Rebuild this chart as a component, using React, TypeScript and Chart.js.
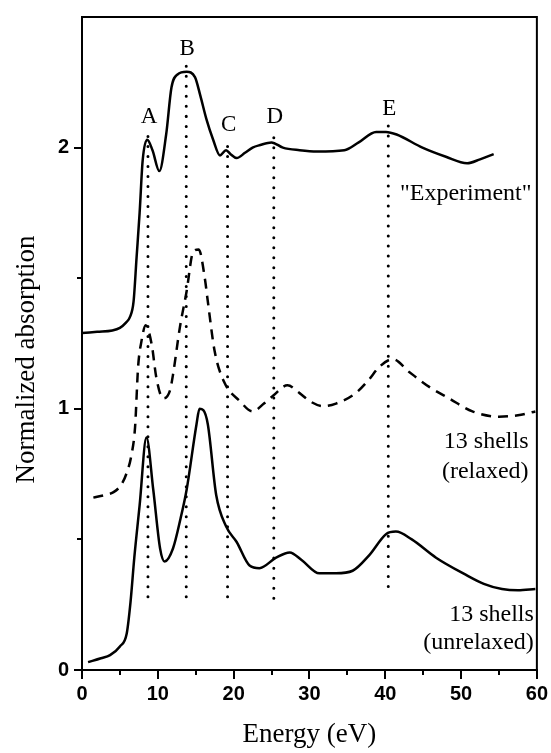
import React, { useEffect, useRef } from 'react';
import { Chart, registerables } from 'chart.js';

Chart.register(...registerables);

// ---- data ----
const experimentEnergy = [0, 2, 4, 5, 5.8, 6.3, 6.8, 7.2, 7.6, 8.0, 8.6, 9.3, 10.2, 11.1, 11.8, 12.6, 13.8, 14.9, 15.6, 16.4, 17.3, 18.2, 19.0, 19.6, 20.4, 21.5, 22.5, 23.5, 25.0, 26.5, 28.7, 31.0, 34.6, 36.5, 38.8, 40.1, 41.5, 44.9, 48.0, 50.8, 52.5, 54.3];
const experimentAbs = [1.29, 1.295, 1.3, 1.31, 1.33, 1.35, 1.41, 1.58, 1.75, 1.95, 2.03, 1.99, 1.91, 2.05, 2.23, 2.28, 2.29, 2.27, 2.2, 2.11, 2.03, 1.97, 1.99, 1.975, 1.96, 1.98, 2.0, 2.01, 2.02, 2.0, 1.99, 1.985, 1.99, 2.02, 2.06, 2.06, 2.05, 2.0, 1.965, 1.94, 1.955, 1.975];

const relaxedEnergy = [1.5, 3, 4.1, 5.2, 5.9, 6.5, 7.0, 7.4, 7.85, 8.4, 9.2, 9.8, 10.7, 11.6, 12.0, 12.9, 13.8, 14.65, 15.4, 16.2, 16.6, 17.5, 18.8, 20.8, 22.5, 24.0, 25.2, 27.1, 28.7, 30.0, 31.8, 33.5, 36.1, 37.8, 39.2, 41.0, 43.2, 46.0, 48.4, 51.5, 55.0, 57.5, 59.8];
const relaxedAbs = [0.66, 0.67, 0.68, 0.71, 0.755, 0.82, 0.93, 1.16, 1.26, 1.32, 1.245, 1.12, 1.04, 1.07, 1.13, 1.31, 1.45, 1.6, 1.61, 1.5, 1.41, 1.22, 1.1, 1.03, 0.99, 1.02, 1.05, 1.09, 1.06, 1.03, 1.01, 1.02, 1.06, 1.11, 1.16, 1.19, 1.14, 1.08, 1.04, 0.99, 0.97, 0.975, 0.99];

const unrelaxedEnergy = [0.8, 2.5, 3.7, 5.0, 5.9, 6.4, 6.9, 7.6, 8.5, 9.4, 10.3, 10.9, 12.0, 13.0, 13.8, 15.1, 15.5, 16.0, 16.6, 17.7, 19.0, 20.4, 22.1, 23.4, 25.6, 27.4, 29.0, 31.3, 33.5, 35.7, 37.9, 40.1, 41.4, 43.5, 46.7, 50.6, 53.0, 55.4, 57.5, 59.8];
const unrelaxedAbs = [0.03, 0.045, 0.057, 0.09, 0.14, 0.26, 0.43, 0.63, 0.89, 0.69, 0.465, 0.415, 0.465, 0.58, 0.69, 0.94, 1.0, 0.995, 0.94, 0.67, 0.55, 0.49, 0.4, 0.39, 0.43, 0.45, 0.42, 0.37, 0.37, 0.38, 0.44, 0.52, 0.53, 0.5, 0.43, 0.365, 0.33, 0.31, 0.305, 0.31];

const peakLabels = ['A', 'B', 'C', 'D', 'E'];
const peakEnergy = [8.7, 13.75, 19.2, 25.3, 40.4];
const peakTop = [2.06, 2.32, 2.03, 2.06, 2.09];
const peakBottom = [0.28, 0.28, 0.28, 0.275, 0.32];

const captionLines = ['"Experiment"', '13 shells', '(relaxed)', '13 shells', '(unrelaxed)'];
const captionEnergy = [59.3, 58.9, 58.9, 59.6, 59.6];
const captionAbs = [1.8, 0.849, 0.736, 0.189, 0.079];

const xTickValues = [0, 10, 20, 30, 40, 50, 60];
const xMinorTicks = [5, 15, 25, 35, 45, 55];
const yTickValues = [0, 1, 2];
const yMinorTicks = [0.5, 1.5];

const xTitle = 'Energy (eV)';
const yTitle = 'Normalized absorption';

const SERIF = '"Liberation Serif", "Times New Roman", serif';
const SANS = '"Liberation Sans", Arial, sans-serif';

const toPoints = (xs: number[], ys: number[]) => xs.map((x, i) => ({ x, y: ys[i] }));

const decorPlugin = {
  id: 'decor',
  afterDraw(chart: any) {
    const { ctx, chartArea } = chart;
    const xs = chart.scales.x;
    const ys = chart.scales.y;
    ctx.save();
    ctx.strokeStyle = '#000';
    ctx.lineWidth = 2;
    ctx.strokeRect(chartArea.left, chartArea.top, chartArea.right - chartArea.left, chartArea.bottom - chartArea.top);
    // minor ticks
    ctx.beginPath();
    xMinorTicks.forEach((v) => {
      const px = Math.round(xs.getPixelForValue(v));
      ctx.moveTo(px, chartArea.bottom);
      ctx.lineTo(px, chartArea.bottom + 5);
    });
    yMinorTicks.forEach((v) => {
      const py = Math.round(ys.getPixelForValue(v));
      ctx.moveTo(chartArea.left, py);
      ctx.lineTo(chartArea.left - 5, py);
    });
    ctx.stroke();
    // peak labels
    ctx.fillStyle = '#000';
    ctx.font = `23px ${SERIF}`;
    ctx.textAlign = 'center';
    ctx.textBaseline = 'alphabetic';
    peakLabels.forEach((t, i) => {
      const px = xs.getPixelForValue(peakEnergy[i]) + 1;
      const py = ys.getPixelForValue(peakTop[i]) - 9;
      ctx.fillText(t, px, py);
    });
    // captions
    ctx.font = `24px ${SERIF}`;
    ctx.textAlign = 'right';
    captionLines.forEach((t, i) => {
      ctx.fillText(t, xs.getPixelForValue(captionEnergy[i]), ys.getPixelForValue(captionAbs[i]));
    });
    // y axis title (slightly below the axis centre, as in the reference)
    ctx.font = `27px ${SERIF}`;
    ctx.textAlign = 'center';
    ctx.textBaseline = 'middle';
    ctx.translate(27, (chartArea.top + chartArea.bottom) / 2 + 16);
    ctx.rotate(-Math.PI / 2);
    ctx.fillText(yTitle, 0, 0);
    ctx.restore();
  },
};

export default function App() {
  const canvasRef = useRef<HTMLCanvasElement | null>(null);

  useEffect(() => {
    const canvas = canvasRef.current;
    if (!canvas) return;
    const curve = {
      pointRadius: 0,
      borderColor: '#000',
      borderWidth: 2.5,
      fill: false,
      cubicInterpolationMode: 'monotone' as const,
    };
    const datasets: any[] = [
      { ...curve, label: 'Experiment', data: toPoints(experimentEnergy, experimentAbs) },
      { ...curve, label: '13 shells (relaxed)', data: toPoints(relaxedEnergy, relaxedAbs), borderDash: [10, 7] },
      { ...curve, label: '13 shells (unrelaxed)', data: toPoints(unrelaxedEnergy, unrelaxedAbs) },
    ];
    peakLabels.forEach((lab, i) => {
      datasets.push({
        label: 'peak ' + lab,
        data: [
          { x: peakEnergy[i], y: peakBottom[i] },
          { x: peakEnergy[i], y: peakTop[i] },
        ],
        pointRadius: 0,
        borderColor: '#000',
        borderWidth: 3,
        borderDash: [0.01, 10],
        borderCapStyle: 'round',
        fill: false,
      });
    });

    const chart = new Chart(canvas, {
      type: 'line',
      data: { datasets },
      options: {
        animation: false,
        responsive: false,
        maintainAspectRatio: false,
        layout: { padding: { left: 0, right: 13, top: 9, bottom: 0 } },
        plugins: { legend: { display: false }, tooltip: { enabled: false }, title: { display: false } },
        scales: {
          x: {
            type: 'linear',
            min: 0,
            max: 60,
            afterBuildTicks: (s: any) => {
              s.ticks = xTickValues.map((v) => ({ value: v }));
            },
            afterFit: (s: any) => {
              s.height = 83;
            },
            ticks: {
              color: '#000',
              font: { family: SANS, size: 20, weight: 'bold' },
              padding: 3,
              maxRotation: 0,
              autoSkip: false,
            },
            grid: { drawOnChartArea: false, drawTicks: true, tickLength: 9, color: '#000', lineWidth: 2 },
            border: { display: true, color: '#000', width: 2 },
            title: {
              display: true,
              text: xTitle,
              color: '#000',
              font: { family: SERIF, size: 27 },
              padding: { top: 0, bottom: 2 },
            },
          },
          y: {
            type: 'linear',
            min: 0,
            max: 2.5,
            afterBuildTicks: (s: any) => {
              s.ticks = yTickValues.map((v) => ({ value: v }));
            },
            afterFit: (s: any) => {
              s.width = 82;
            },
            ticks: {
              color: '#000',
              font: { family: SANS, size: 20, weight: 'bold' },
              padding: 5,
              autoSkip: false,
            },
            grid: { drawOnChartArea: false, drawTicks: true, tickLength: 8, color: '#000', lineWidth: 2 },
            border: { display: true, color: '#000', width: 2 },
            title: { display: false },
          },
        },
      } as any,
      plugins: [decorPlugin],
    });
    return () => chart.destroy();
  }, []);

  return (
    <div style={{ position: 'fixed', left: 0, top: 0, width: 551, height: 753, background: '#fff' }}>
      <canvas ref={canvasRef} width={551} height={753} style={{ display: 'block', width: 551, height: 753 }} />
    </div>
  );
}
